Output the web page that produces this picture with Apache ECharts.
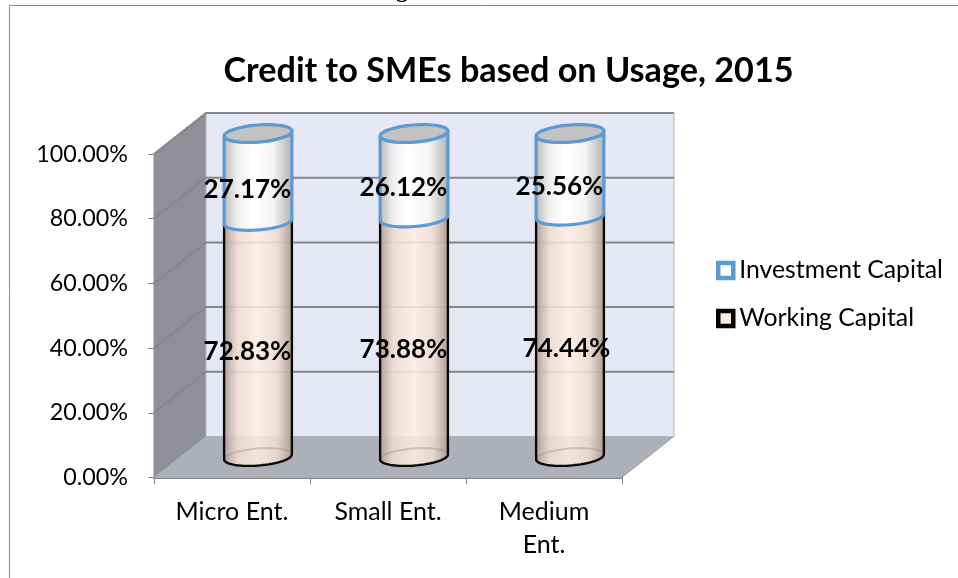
<!DOCTYPE html>
<html><head><meta charset="utf-8">
<style>html,body{margin:0;padding:0;background:#fff}#c{width:958px;height:578px}</style>
<script src="https://cdn.jsdelivr.net/npm/echarts@6/dist/echarts.min.js"></script>
</head><body><div id="c"></div>
<script>
const categories = ['Micro Ent.', 'Small Ent.', 'Medium\nEnt.'];
const workingCapital = [72.83, 73.88, 74.44];
const investmentCapital = [27.17, 26.12, 25.56];
const yTicks = [0, 20, 40, 60, 80, 100];

const FONT = 'Lato';
const DX = 52, DY = -41;          // wall depth
const A = 34, B = 8.5, TILT = -4.5 * Math.PI / 180;
const OFF = [DX / 2, DY / 2];
const LABEL_NUDGE = { 'working-2': 7 };

function pt(cx, cy, t) {
  const x = A * Math.cos(t), y = B * Math.sin(t);
  return [cx + x * Math.cos(TILT) - y * Math.sin(TILT), cy + x * Math.sin(TILT) + y * Math.cos(TILT)];
}
function arc(cx, cy, from, to) {
  const out = [];
  for (let i = 0; i <= 32; i++) out.push(pt(cx, cy, from + (to - from) * i / 32));
  return out;
}
function grad(stops) {
  return { type: 'linear', x: 0, y: 0, x2: 1, y2: 0, colorStops: stops };
}
const gradWork = grad([{offset:0,color:'rgba(176,158,148,.95)'},{offset:.2,color:'rgba(238,220,208,.88)'},{offset:.5,color:'rgba(255,238,226,.84)'},{offset:.78,color:'rgba(238,220,208,.88)'},{offset:1,color:'rgba(176,156,146,.95)'}]);
const gradInv = grad([{offset:0,color:'#b4b4b4'},{offset:.2,color:'#eeeeee'},{offset:.42,color:'#ffffff'},{offset:.72,color:'#f4f4f4'},{offset:1,color:'#adadad'}]);

function renderWalls(params, api) {
  const v = api.value(0);
  const p = api.coord([0, v]);
  const left = api.coord([0, 0])[0] - api.size([1, 0])[0] / 2;
  const right = left + api.size([1, 0])[0] * categories.length;
  const y = p[1];
  const y0 = api.coord([0, 0])[1], y100 = api.coord([0, 100])[1];
  const children = [];
  if (params.dataIndex === 0) {
    children.push({ type: 'polygon', shape: { points: [[left, y100], [left + DX, y100 + DY], [left + DX, y0 + DY], [left, y0]] }, style: { fill: '#8e8f98', stroke: '#8e8f98' } });
    children.push({ type: 'polygon', shape: { points: [[left, y0], [left + DX, y0 + DY], [right + DX, y0 + DY], [right, y0]] }, style: { fill: '#adb0b8', stroke: '#a8a9ae', lineWidth: 1 } });
    children.push({ type: 'rect', shape: { x: left + DX, y: y100 + DY, width: right - left, height: y0 - y100 }, style: { fill: '#e6e9f5', stroke: '#b4b4b8', lineWidth: 1 } });
  }
  if (v > 0) {
    children.push({ type: 'polyline', shape: { points: [[left, y], [left + DX, y + DY], [right + DX, y + DY]] }, style: { fill: 'none', stroke: '#85878a', lineWidth: 2 } });
  }
  return { type: 'group', children };
}

function makeRender(kind) {
  return function (params, api) {
    const i = api.value(0);
    const base = api.coord([i, api.value(1)]);
    const top = api.coord([i, api.value(2)]);
    const cx = base[0] + OFF[0], by = base[1] + OFF[1], ty = top[1] + OFF[1];
    const bodyPts = arc(cx, by, Math.PI, 0).concat(arc(cx, ty, 0, Math.PI));
    const children = [];
    const mid = (by + ty) / 2;
    if (kind === 'working') {
      children.push({ type: 'polygon', shape: { points: bodyPts }, style: { fill: gradWork } });
      children.push({ type: 'polyline', shape: { points: arc(cx, by, Math.PI, 2 * Math.PI) }, style: { fill: 'none', stroke: 'rgba(150,130,120,.35)', lineWidth: 2 } });
      children.push({ type: 'polyline', shape: { points: [pt(cx, ty, Math.PI)].concat(arc(cx, by, Math.PI, 0), [pt(cx, ty, 0)]) }, style: { fill: 'none', stroke: '#0a0a0a', lineWidth: 2.4 } });
    } else {
      children.push({ type: 'polygon', shape: { points: bodyPts }, style: { fill: gradInv, stroke: '#5b9bd5', lineWidth: 3.2, lineJoin: 'round' } });
      children.push({ type: 'polygon', shape: { points: arc(cx, ty, 0, 2 * Math.PI) }, style: { fill: '#c2c2c2', stroke: '#5b9bd5', lineWidth: 3.2 } });
    }
    const val = kind === 'working' ? workingCapital[i] : investmentCapital[i];
    const nudge = LABEL_NUDGE[kind + '-' + i] || 0;
    children.push({ type: 'text', z2: 100, x: cx - 10.5 + nudge, y: mid + 12, style: { text: val.toFixed(2) + '%', fill: '#000', font: 'bold 26px ' + FONT, align: 'center', verticalAlign: 'middle' } });
    return { type: 'group', children };
  };
}

const chart = echarts.init(document.getElementById('c'), null, { renderer: 'canvas' });
chart.setOption({
  animation: false,
  backgroundColor: '#fff',
  textStyle: { fontFamily: FONT },
  title: {
    text: 'Credit to SMEs based on Usage, 2015',
    left: 503.5, top: 49, textAlign: 'center',
    textStyle: { fontFamily: FONT, fontSize: 34.2, fontWeight: 'bold', color: '#000' }
  },
  grid: { left: 154, right: 336, top: 154, bottom: 100.5 },
  legend: {
    orient: 'vertical', left: 711, top: 253, itemWidth: 15, itemHeight: 15, itemGap: 23,
    selectedMode: false, icon: 'rect',
    textStyle: { fontFamily: FONT, fontSize: 24.8, color: '#000', padding: [0, 0, 0, 1] },
    data: [
      { name: 'Investment Capital', itemStyle: { color: '#fff', borderColor: '#5b9bd5', borderWidth: 4.5 } },
      { name: 'Working Capital', itemStyle: { color: '#fde9dc', borderColor: '#000', borderWidth: 4.5 } }
    ]
  },
  xAxis: {
    type: 'category', data: categories,
    axisLine: { lineStyle: { color: '#868686', width: 2 } },
    axisTick: { show: true, length: 7, lineStyle: { color: '#868686', width: 1 } },
    axisLabel: { fontFamily: FONT, fontSize: 25, color: '#000', margin: 18, lineHeight: 33, interval: 0 }
  },
  yAxis: {
    type: 'value', min: 0, max: 100, interval: 20,
    axisLine: { show: true, lineStyle: { color: '#868686', width: 1 } },
    axisTick: { show: true, length: 6, lineStyle: { color: '#868686', width: 1 } },
    splitLine: { show: false },
    axisLabel: { fontFamily: FONT, fontSize: 23.3, color: '#000', margin: 26, formatter: v => v.toFixed(2) + '%' }
  },
  graphic: [
    { type: 'rect', z: -1, shape: { x: 9.5, y: 5.5, width: 1000, height: 620 }, style: { fill: 'none', stroke: '#8a8a8a', lineWidth: 1 } },
    { type: 'text', left: 396, top: -21, style: { text: 'g', fill: '#000', font: 'bold 24px "Liberation Serif"' } }
  ],
  series: [
    { type: 'custom', name: 'walls', silent: true, z: 1, clip: false, renderItem: renderWalls, encode: { y: 0 }, data: yTicks.map(v => [v]) },
    { type: 'custom', name: 'Working Capital', z: 2, clip: false, renderItem: makeRender('working'), encode: { x: 0, y: [1, 2] },
      data: workingCapital.map((v, i) => [i, 0, v]) },
    { type: 'custom', name: 'Investment Capital', z: 3, clip: false, renderItem: makeRender('investment'), encode: { x: 0, y: [1, 2] },
      data: investmentCapital.map((v, i) => [i, workingCapital[i], workingCapital[i] + v]) }
  ]
});
</script></body></html>
